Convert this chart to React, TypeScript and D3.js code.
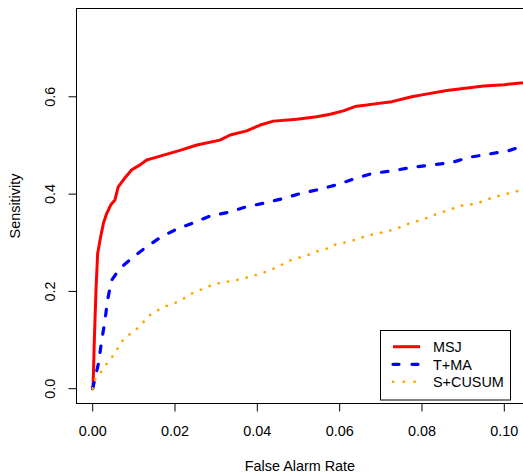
import React from "react";
import * as d3 from "d3";

const msjFa = [0, 0.0001, 0.0004, 0.0008, 0.0012, 0.0018, 0.0026, 0.0034, 0.0044, 0.0054, 0.0062, 0.0077, 0.0095, 0.0115, 0.0131, 0.0147, 0.0172, 0.0212, 0.0253, 0.0309, 0.0334, 0.0374, 0.0407, 0.0439, 0.0496, 0.0544, 0.0577, 0.0609, 0.0637, 0.0666, 0.069, 0.0727, 0.0775, 0.08, 0.086, 0.09, 0.095, 0.1, 0.1046, 0.106];
const msjSens = [0, 0.008, 0.1, 0.203, 0.278, 0.306, 0.34, 0.36, 0.378, 0.388, 0.415, 0.432, 0.45, 0.46, 0.47, 0.474, 0.48, 0.49, 0.501, 0.511, 0.5215, 0.53, 0.542, 0.55, 0.554, 0.559, 0.564, 0.571, 0.58, 0.583, 0.586, 0.59, 0.6, 0.604, 0.613, 0.617, 0.622, 0.625, 0.629, 0.631];

const tmaFa = [0, 0.0001, 0.0014, 0.0022, 0.003, 0.0036, 0.0046, 0.0066, 0.0099, 0.0127, 0.0164, 0.0204, 0.0245, 0.0285, 0.0326, 0.0374, 0.0419, 0.0463, 0.0508, 0.0552, 0.0597, 0.0637, 0.0682, 0.0727, 0.0775, 0.0824, 0.0872, 0.0917, 0.0961, 0.101, 0.1046, 0.106];
const tmaSens = [0, 0.004, 0.052, 0.1, 0.141, 0.182, 0.223, 0.247, 0.271, 0.289, 0.311, 0.328, 0.341, 0.355, 0.362, 0.374, 0.382, 0.391, 0.402, 0.41, 0.42, 0.432, 0.443, 0.4475, 0.455, 0.46, 0.465, 0.476, 0.482, 0.489, 0.499, 0.502];

const cusumFa = [0, 0.0006, 0.0019, 0.0032, 0.0044, 0.0057, 0.0066, 0.0081, 0.0096, 0.0113, 0.0127, 0.0141, 0.016, 0.0179, 0.02, 0.0219, 0.0236, 0.0256, 0.0275, 0.0296, 0.0319, 0.0342, 0.0365, 0.0386, 0.0409, 0.0429, 0.045, 0.0467, 0.0487, 0.0509, 0.053, 0.055, 0.0573, 0.0592, 0.0615, 0.0637, 0.0658, 0.0679, 0.0702, 0.0727, 0.0747, 0.0767, 0.0787, 0.0808, 0.0829, 0.085, 0.0871, 0.0893, 0.0915, 0.0937, 0.0959, 0.098, 0.1002, 0.1024, 0.1045, 0.106];
const cusumSens = [0, 0.019, 0.033, 0.049, 0.062, 0.076, 0.093, 0.106, 0.116, 0.127, 0.141, 0.153, 0.162, 0.17, 0.176, 0.184, 0.194, 0.201, 0.208, 0.215, 0.219, 0.222, 0.226, 0.232, 0.236, 0.244, 0.2495, 0.259, 0.266, 0.271, 0.277, 0.284, 0.289, 0.297, 0.301, 0.306, 0.312, 0.317, 0.321, 0.326, 0.332, 0.339, 0.344, 0.35, 0.357, 0.363, 0.369, 0.376, 0.378, 0.382, 0.389, 0.395, 0.4, 0.404, 0.41, 0.412];

const xTicks = [0, 0.02, 0.04, 0.06, 0.08, 0.1];
const xTickLabels = ["0.00", "0.02", "0.04", "0.06", "0.08", "0.10"];
const yTicks = [0, 0.2, 0.4, 0.6];
const yTickLabels = ["0.0", "0.2", "0.4", "0.6"];
const seriesNames = ["MSJ", "T+MA", "S+CUSUM"];

const W = 523;
const H = 475;
const FONT = "'Liberation Sans', Arial, Helvetica, sans-serif";
const FS = 14.4;

export default function App() {
  const x = d3.scaleLinear().domain([0, 0.1]).range([92.7, 504.3]);
  const y = d3.scaleLinear().domain([0, 0.6]).range([388.7, 96.8]);
  const left = 76.5, top = 8.5, bottom = 403.5;
  const right = x(0.1056);

  const line = d3.line<[number, number]>().x((d) => x(d[0])).y((d) => y(d[1]));
  const zip = (a: number[], b: number[]) => a.map((v, i) => [v, b[i]] as [number, number]);

  const styles = [
    { color: "#FF0000", width: 3, dash: undefined as string | undefined, cap: "round" },
    { color: "#0000FF", width: 3.2, dash: "6.5 12", cap: "round" },
    { color: "#FFA500", width: 2.6, dash: "0.3 9.2", cap: "round" },
  ];
  const data = [zip(msjFa, msjSens), zip(tmaFa, tmaSens), zip(cusumFa, cusumSens)];

  const legY = [346.7, 364.3, 381.7];

  return (
    <svg width={W} height={H} style={{ position: "absolute", left: 0, top: 0, background: "#fff" }} fontFamily={FONT}>
      <defs>
        <clipPath id="plotclip">
          <rect x={left} y={top} width={right - left} height={bottom - top} />
        </clipPath>
      </defs>
      <rect x={0} y={0} width={W} height={H} fill="#fff" />
      <g clipPath="url(#plotclip)">
        {data.map((d, i) => (
          <path
            key={i}
            d={line(d) || ""}
            fill="none"
            stroke={styles[i].color}
            strokeWidth={styles[i].width}
            strokeDasharray={styles[i].dash}
            strokeLinecap={styles[i].cap as any}
            strokeLinejoin="round"
          />
        ))}
      </g>
      <rect x={left} y={top} width={right - left} height={bottom - top} fill="none" stroke="#000" strokeWidth={1} />
      {xTicks.map((t, i) => (
        <g key={"xt" + i}>
          <line x1={x(t)} x2={x(t)} y1={bottom} y2={bottom + 8} stroke="#000" />
          <text x={x(t)} y={435.7} textAnchor="middle" fontSize={FS} fill="#000">
            {xTickLabels[i]}
          </text>
        </g>
      ))}
      {yTicks.map((t, i) => (
        <g key={"yt" + i}>
          <line x1={left - 8} x2={left} y1={y(t)} y2={y(t)} stroke="#000" />
          <text
            transform={`translate(55.3, ${y(t)}) rotate(-90)`}
            textAnchor="middle"
            fontSize={FS}
            fill="#000"
          >
            {yTickLabels[i]}
          </text>
        </g>
      ))}
      <text x={(left + right) / 2 - 2} y={470.7} textAnchor="middle" fontSize={FS} fill="#000">
        False Alarm Rate
      </text>
      <text transform={`translate(19.7, ${(top + bottom) / 2}) rotate(-90)`} textAnchor="middle" fontSize={FS} fill="#000">
        Sensitivity
      </text>
      <rect x={380.5} y={330.5} width={130} height={69.5} fill="#fff" stroke="#000" strokeWidth={1} />
      {seriesNames.map((n, i) => (
        <g key={"lg" + i}>
          <line
            x1={393}
            x2={420}
            y1={legY[i]}
            y2={legY[i]}
            stroke={styles[i].color}
            strokeWidth={styles[i].width}
            strokeDasharray={i === 1 ? "6 13" : i === 2 ? "0.3 10.4" : undefined}
            strokeLinecap={i === 0 ? "butt" : "round"}
          />
          <text x={433} y={legY[i] + 5.2} fontSize={FS} fill="#000">
            {n}
          </text>
        </g>
      ))}
    </svg>
  );
}
